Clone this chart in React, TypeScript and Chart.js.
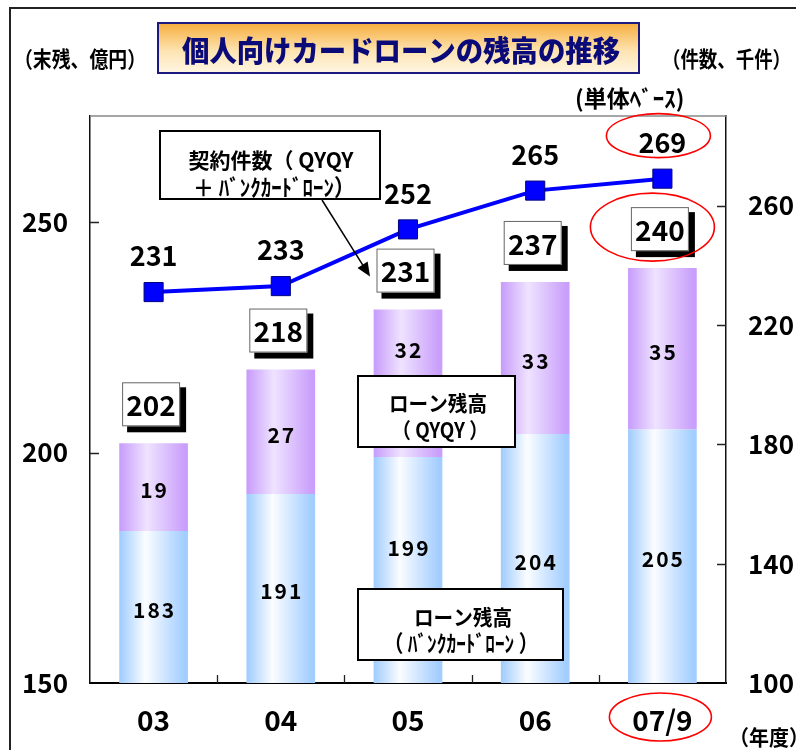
import React, { useEffect, useRef } from 'react';
import { Chart, registerables } from 'chart.js';

Chart.register(...registerables);

// ---- data ----
const categories = ['03', '04', '05', '06', '07/9'];
const bankcardLoan = [183, 191, 199, 204, 205]; // ローン残高（バンクカードローン）
const qyqyLoan = [19, 27, 32, 33, 35]; // ローン残高（QYQY）
const totalLoan = [202, 218, 231, 237, 240];
const contracts = [231, 233, 252, 265, 269]; // 契約件数（千件）
const leftTicks = [150, 200, 250];
const rightTicks = [100, 140, 180, 220, 260];

const FONT = '"Noto Sans CJK JP", "Noto Sans", sans-serif';
const W = 796;
const H = 750;
const PLOT_LEFT = 90;
const PLOT_RIGHT = 726;
const PLOT_TOP = 116;
const PLOT_BOTTOM = 683;
const BAR_PCT = 0.54;

function barFill(stops: [number, string][], fallback: string) {
  return (c: any) => {
    if (c.type !== 'data') return fallback;
    const chart = c.chart;
    const xs = chart.scales?.x;
    if (!xs || !chart.chartArea) return fallback;
    const cx = xs.getPixelForValue(c.dataIndex);
    const w = (xs.width / categories.length) * BAR_PCT;
    const g = chart.ctx.createLinearGradient(cx - w / 2, 0, cx + w / 2, 0);
    stops.forEach(([o, col]) => g.addColorStop(o, col));
    return g;
  };
}

type Line = { t: string; cx: number; cy: number; size?: number; maxW?: number };

function textBox(ctx: CanvasRenderingContext2D, x: number, y: number, w: number, h: number, lines: Line[]) {
  ctx.save();
  ctx.fillStyle = '#fff';
  ctx.fillRect(x, y, w, h);
  ctx.strokeStyle = '#000';
  ctx.lineWidth = 2;
  ctx.strokeRect(x, y, w, h);
  ctx.fillStyle = '#000';
  ctx.textAlign = 'center';
  ctx.textBaseline = 'middle';
  lines.forEach((l) => {
    ctx.font = `bold ${l.size ?? 20}px ${FONT}`;
    if (l.maxW) ctx.fillText(l.t, l.cx, l.cy, l.maxW);
    else ctx.fillText(l.t, l.cx, l.cy);
  });
  ctx.restore();
}

function valueBox(ctx: CanvasRenderingContext2D, cx: number, cy: number, text: string) {
  const w = 58;
  const h = 44;
  const x = cx - w / 2;
  const y = cy - h / 2;
  ctx.save();
  ctx.fillStyle = '#000';
  ctx.fillRect(x + 5, y + 5, w + 1, h + 1);
  ctx.fillStyle = '#fff';
  ctx.fillRect(x, y, w, h);
  ctx.strokeStyle = '#666';
  ctx.lineWidth = 1;
  ctx.strokeRect(x + 0.5, y + 0.5, w - 1, h - 1);
  ctx.fillStyle = '#000';
  ctx.font = `bold 28px ${FONT}`;
  ctx.textAlign = 'center';
  ctx.textBaseline = 'middle';
  ctx.fillText(text, cx, cy + 1);
  ctx.restore();
}

function ellipse(ctx: CanvasRenderingContext2D, cx: number, cy: number, rx: number, ry: number) {
  ctx.save();
  ctx.strokeStyle = '#ff0000';
  ctx.lineWidth = 1.6;
  ctx.beginPath();
  ctx.ellipse(cx, cy, rx, ry, 0, 0, Math.PI * 2);
  ctx.stroke();
  ctx.restore();
}

const decorPlugin = {
  id: 'decor',
  beforeDraw(chart: any) {
    const ctx: CanvasRenderingContext2D = chart.ctx;
    ctx.save();
    ctx.fillStyle = '#fff';
    ctx.fillRect(0, 0, W, H);
    // outer frame
    ctx.fillStyle = '#222';
    ctx.fillRect(9, 7, 2, H - 7);
    ctx.fillRect(9, 7, W - 9, 2);
    // title box
    const g = ctx.createLinearGradient(0, 23, 0, 73);
    g.addColorStop(0, '#f6ad3c');
    g.addColorStop(0.55, '#fde3b0');
    g.addColorStop(1, '#fff6e4');
    ctx.fillStyle = g;
    ctx.fillRect(158, 23, 481, 50);
    ctx.strokeStyle = '#1a1a80';
    ctx.lineWidth = 2;
    ctx.strokeRect(158, 23, 481, 50);
    ctx.fillStyle = '#0a0a78';
    ctx.font = `900 29px ${FONT}`;
    ctx.textAlign = 'center';
    ctx.textBaseline = 'middle';
    ctx.fillText('個人向けカードローンの残高の推移', 401, 51, 438);
    // unit labels
    ctx.fillStyle = '#000';
    ctx.font = `bold 22px ${FONT}`;
    ctx.textAlign = 'left';
    ctx.fillText('（末残、億円）', 14, 59, 132);
    ctx.fillText('（件数、千件）', 662, 59, 129);
    ctx.font = `bold 23px ${FONT}`;
    ctx.fillText('(単体ﾍﾞｰｽ)', 575, 98, 114);
    ctx.font = `bold 21px ${FONT}`;
    ctx.fillText('（年度）', 729, 737, 80);
    ctx.restore();
  },
  afterDatasetsDraw(chart: any) {
    const ctx: CanvasRenderingContext2D = chart.ctx;
    const area = chart.chartArea;
    const xs = chart.scales.x;
    const yl = chart.scales.y;
    const yr = chart.scales.y1;
    ctx.save();
    // top border of plot
    ctx.strokeStyle = '#888';
    ctx.lineWidth = 1.5;
    ctx.beginPath();
    ctx.moveTo(area.left, area.top);
    ctx.lineTo(area.right, area.top);
    ctx.stroke();
    // inward tick marks
    ctx.strokeStyle = '#222';
    ctx.lineWidth = 1.3;
    ctx.beginPath();
    leftTicks.forEach((v) => {
      if (v === yl.min) return;
      const p = Math.round(yl.getPixelForValue(v)) + 0.5;
      ctx.moveTo(area.left, p);
      ctx.lineTo(area.left + 9, p);
    });
    rightTicks.forEach((v) => {
      if (v === yr.min) return;
      const p = Math.round(yr.getPixelForValue(v)) + 0.5;
      ctx.moveTo(area.right, p);
      ctx.lineTo(area.right - 9, p);
    });
    for (let i = 0; i < categories.length - 1; i++) {
      const p = Math.round((xs.getPixelForValue(i) + xs.getPixelForValue(i + 1)) / 2) + 0.5;
      ctx.moveTo(p, area.bottom);
      ctx.lineTo(p, area.bottom - 8);
    }
    ctx.stroke();

    // segment labels
    const dodgeIndex = 2; // labels moved up to clear the legend boxes
    const metaBank = chart.getDatasetMeta(0);
    const metaQ = chart.getDatasetMeta(1);
    ctx.fillStyle = '#000';
    ctx.font = `bold 21px ${FONT}`;
    (ctx as any).letterSpacing = '2px';
    ctx.textAlign = 'center';
    ctx.textBaseline = 'middle';
    [metaBank, metaQ].forEach((meta: any, di: number) => {
      const vals = di === 0 ? bankcardLoan : qyqyLoan;
      meta.data.forEach((el: any, i: number) => {
        const bottom = Math.min(el.base, area.bottom);
        let cy = (el.y + bottom) / 2 + 3;
        if (i === dodgeIndex) cy += di === 0 ? -25 : -36;
        ctx.fillText(String(vals[i]), el.x + 1, cy);
      });
    });
    (ctx as any).letterSpacing = '0px';

    // total value boxes
    metaQ.data.forEach((el: any, i: number) => {
      valueBox(ctx, el.x - 2.5, el.y - 39, String(totalLoan[i]));
    });

    // line point labels
    const metaLine = chart.getDatasetMeta(2);
    ctx.fillStyle = '#000';
    ctx.font = `bold 27px ${FONT}`;
    ctx.textAlign = 'center';
    ctx.textBaseline = 'middle';
    metaLine.data.forEach((pt: any, i: number) => {
      ctx.fillText(String(contracts[i]), pt.x, pt.y - 36);
    });

    // legend / annotation boxes
    textBox(ctx, 160, 131, 220, 68, [
      { t: '契約件数（ QYQY', cx: 271, cy: 160, size: 21, maxW: 166 },
      { t: '＋ ﾊﾞﾝｸｶｰﾄﾞﾛｰﾝ）', cx: 274, cy: 187, size: 23, maxW: 162 },
    ]);
    textBox(ctx, 358, 376, 157, 71, [
      { t: 'ローン残高', cx: 438, cy: 403, size: 21, maxW: 98 },
      { t: '（ QYQY ）', cx: 440, cy: 430, size: 21, maxW: 96 },
    ]);
    textBox(ctx, 358, 589, 205, 71, [
      { t: 'ローン残高', cx: 463, cy: 617, size: 21, maxW: 98 },
      { t: '（ ﾊﾞﾝｸｶｰﾄﾞﾛｰﾝ ）', cx: 461, cy: 643, size: 23, maxW: 154 },
    ]);

    // arrow from contract-count label to the 05 total box
    const target = metaQ.data[2];
    const tipX = target.x - 38;
    const tipY = target.y - 33;
    const sx = 322;
    const sy = 200;
    const ang = Math.atan2(tipY - sy, tipX - sx);
    ctx.strokeStyle = '#000';
    ctx.fillStyle = '#000';
    ctx.lineWidth = 1.5;
    ctx.beginPath();
    ctx.moveTo(sx, sy);
    ctx.lineTo(tipX - 10 * Math.cos(ang), tipY - 10 * Math.sin(ang));
    ctx.stroke();
    ctx.beginPath();
    ctx.moveTo(tipX, tipY);
    ctx.lineTo(tipX - 14 * Math.cos(ang) + 6 * Math.sin(ang), tipY - 14 * Math.sin(ang) - 6 * Math.cos(ang));
    ctx.lineTo(tipX - 14 * Math.cos(ang) - 6 * Math.sin(ang), tipY - 14 * Math.sin(ang) + 6 * Math.cos(ang));
    ctx.closePath();
    ctx.fill();

    // red highlight ellipses for the latest period
    const last = categories.length - 1;
    const lp = metaLine.data[last];
    ellipse(ctx, lp.x - 4, lp.y - 43, 52, 22);
    const lb = metaQ.data[last];
    ellipse(ctx, lb.x - 10, lb.y - 41, 62, 34);
    ellipse(ctx, xs.getPixelForValue(last) - 2, area.bottom + 34, 51, 24);
    ctx.restore();
  },
};

export default function App() {
  const ref = useRef<HTMLCanvasElement | null>(null);
  useEffect(() => {
    if (!ref.current) return;
    const tickFont = { family: FONT, size: 26, weight: 'bold' as const };
    const chart = new Chart(ref.current, {
      type: 'bar',
      data: {
        labels: categories,
        datasets: [
          {
            label: 'ローン残高（バンクカードローン）',
            data: bankcardLoan,
            yAxisID: 'y',
            order: 2,
            backgroundColor: barFill(
              [
                [0, '#9ecbff'],
                [0.38, '#fbfdff'],
                [0.95, '#a2cdff'],
                [1, '#a2cdff'],
              ],
              '#a8d0ff'
            ),
            borderWidth: 0,
            barPercentage: BAR_PCT,
            categoryPercentage: 1,
          },
          {
            label: 'ローン残高（QYQY）',
            data: qyqyLoan,
            yAxisID: 'y',
            order: 2,
            backgroundColor: barFill(
              [
                [0, '#c79bfb'],
                [0.4, '#efe3ff'],
                [0.95, '#c99ffb'],
                [1, '#c99ffb'],
              ],
              '#d4b0fc'
            ),
            borderWidth: 0,
            barPercentage: BAR_PCT,
            categoryPercentage: 1,
          },
          {
            type: 'line' as const,
            label: '契約件数',
            data: contracts,
            yAxisID: 'y1',
            order: 0,
            borderColor: '#0000ff',
            borderWidth: 4,
            tension: 0,
            pointStyle: 'rect',
            pointRadius: 13.5,
            pointBackgroundColor: '#0000ff',
            pointBorderColor: '#000080',
            pointBorderWidth: 1,
            clip: false as any,
          },
        ] as any,
      },
      options: {
        responsive: false,
        animation: false,
        devicePixelRatio: 1,
        layout: { padding: { top: PLOT_TOP, left: 0, right: 0, bottom: 0 } },
        plugins: {
          legend: { display: false },
          tooltip: { enabled: false },
          title: { display: false },
        },
        scales: {
          x: {
            stacked: true,
            offset: true,
            grid: { display: false, drawTicks: false },
            border: { display: true, color: '#000', width: 2 },
            ticks: { color: '#000', font: { ...tickFont, size: 28 }, padding: 21, maxRotation: 0, autoSkip: false },
            afterFit: (s: any) => {
              s.height = H - PLOT_BOTTOM;
            },
          },
          y: {
            position: 'left',
            stacked: true,
            min: 150,
            max: 273,
            afterBuildTicks: (s: any) => {
              s.ticks = leftTicks.map((v) => ({ value: v }));
            },
            grid: { display: false, drawTicks: false },
            border: { display: true, color: '#111', width: 1.5 },
            ticks: { color: '#000', font: tickFont, padding: 22 },
            afterFit: (s: any) => {
              s.width = PLOT_LEFT;
            },
          },
          y1: {
            position: 'right',
            min: 100,
            max: 290,
            afterBuildTicks: (s: any) => {
              s.ticks = rightTicks.map((v) => ({ value: v }));
            },
            grid: { display: false, drawTicks: false },
            border: { display: true, color: '#111', width: 1.5 },
            ticks: { color: '#000', font: tickFont, padding: 22 },
            afterFit: (s: any) => {
              s.width = W - PLOT_RIGHT;
            },
          },
        } as any,
      },
      plugins: [decorPlugin],
    });
    return () => chart.destroy();
  }, []);
  return (
    <div style={{ position: 'absolute', left: 0, top: 0, width: W, height: H }}>
      <canvas ref={ref} width={W} height={H} style={{ display: 'block', width: W, height: H }} />
    </div>
  );
}
